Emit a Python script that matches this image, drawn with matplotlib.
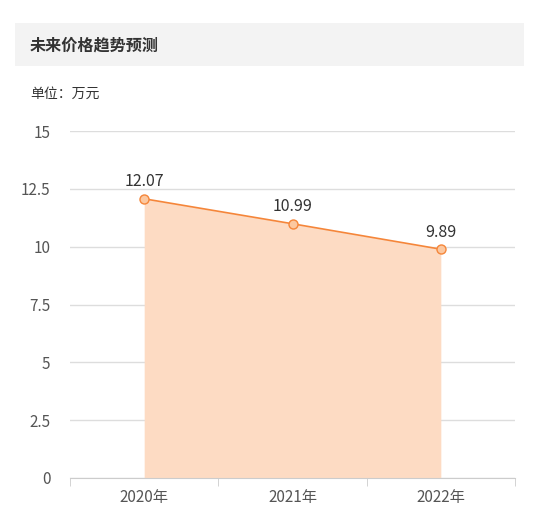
import matplotlib.pyplot as plt
from matplotlib.patches import Rectangle

plt.rcParams['font.family'] = ['Noto Sans CJK SC', 'DejaVu Sans']

years = ["2020年", "2021年", "2022年"]
prices = [12.07, 10.99, 9.89]
yticks = [0, 2.5, 5, 7.5, 10, 12.5, 15]
ytick_labels = ["0", "2.5", "5", "7.5", "10", "12.5", "15"]

W, H = 536, 527
fig = plt.figure(figsize=(W / 100, H / 100), dpi=100)

# title box
fig.patches.append(Rectangle((15 / W, 1 - 66 / H), 509 / W, 43 / H,
                             transform=fig.transFigure, facecolor="#f3f3f3",
                             edgecolor="none", zorder=0))
fig.text(30 / W, 1 - 46 / H, "未来价格趋势预测", fontsize=11.6, fontweight="bold",
         color="#333333", va="center", ha="left")
fig.text(30 / W, 1 - 94 / H, "单位：万元", fontsize=10, color="#333333",
         va="center", ha="left")

ax = fig.add_axes([70 / W, 1 - 478 / H, 445 / W, 347 / H])
x = list(range(len(years)))
ax.fill_between(x, prices, 0, color="#fddbc3", linewidth=0, zorder=1)
ax.plot(x, prices, color="#f5863a", linewidth=1.2, marker="o", markersize=6.5,
        markerfacecolor="#fcc8a0", markeredgecolor="#f5863a",
        markeredgewidth=1, zorder=3)
for xi, v in zip(x, prices):
    ax.annotate(f"{v:g}", (xi, v), xytext=(0, 6), textcoords="offset points",
                ha="center", va="bottom", fontsize=11.5, color="#333333")

ax.set_xlim(-0.5, 2.5)
ax.set_ylim(0, 15)
ax.set_yticks(yticks)
ax.set_yticklabels(ytick_labels)
ax.grid(axis="y", color="#dddddd", linewidth=1, zorder=0)
ax.set_axisbelow(True)

ax.set_xticks(x)
ax.set_xticklabels(years)
ax.set_xticks([-0.5, 0.5, 1.5, 2.5], minor=True)
ax.tick_params(axis="x", which="major", length=0, pad=8, labelsize=11,
               labelcolor="#555555")
ax.tick_params(axis="x", which="minor", length=6, color="#cccccc")
ax.tick_params(axis="y", length=0, pad=14, labelsize=11, labelcolor="#555555")

for s in ["top", "right", "left"]:
    ax.spines[s].set_visible(False)
ax.spines["bottom"].set_color("#cccccc")

fig.savefig("out.png", dpi=100)
